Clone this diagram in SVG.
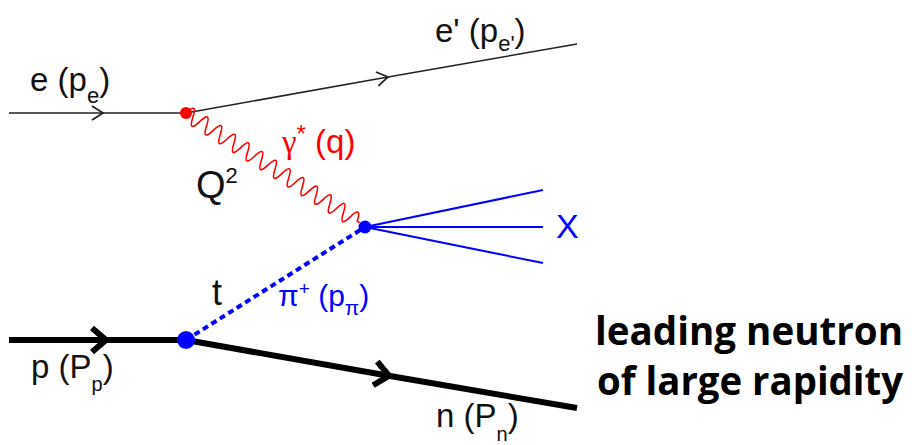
<svg xmlns="http://www.w3.org/2000/svg" width="912" height="445" viewBox="0 0 912 445">
  <style>
    .lbl { font-family: "Liberation Sans", Arial, sans-serif; font-size: 33px; fill: #111; }
    .red { fill: #ff0000; }
    .blue { fill: #0000ff; }
    .big { font-family: "Open Sans", "Liberation Sans", sans-serif; font-weight: bold; font-size: 39px; fill: #000; }
    .elec { stroke: #222; stroke-width: 1.6; fill: none; }
    .prot { stroke: #000; stroke-width: 6; fill: none; }
  </style>
  <defs>
    <marker id="chevThin" markerUnits="userSpaceOnUse" orient="auto" markerWidth="30" markerHeight="30" refX="15" refY="15" viewBox="0 0 30 30" overflow="visible">
      <path d="M4,8 L15,15 L4,22" fill="none" stroke="#222" stroke-width="1.8"/>
    </marker>
    <marker id="chevThick" markerUnits="userSpaceOnUse" orient="auto" markerWidth="40" markerHeight="40" refX="20" refY="20" viewBox="0 0 40 40" overflow="visible">
      <path d="M5,8 L19,20 L5,32" fill="none" stroke="#000" stroke-width="6"/>
    </marker>
  </defs>
  <rect width="912" height="445" fill="#fff"/>

  <g id="connectors">
    <path id="e-in" class="elec" d="M9,113 L103,113 L186,113" marker-mid="url(#chevThin)"/>
    <path id="e-out" class="elec" d="M186,113 L388,77 L577,44" marker-mid="url(#chevThin)"/>
    <path id="photon" fill="none" stroke="#ff0000" stroke-width="1.6" transform="translate(186,113) rotate(32.3)"
      d="M0,0 q4.05,-16 8.1,0 t8.1,0 t8.1,0 t8.1,0 t8.1,0 t8.1,0 t8.1,0 t8.1,0 t8.1,0 t8.1,0 t8.1,0 t8.1,0 t8.1,0 t8.1,0 t8.1,0 t8.1,0 t8.1,0 t8.1,0 t8.1,0 t8.1,0 t8.1,0 t8.1,0 t8.1,0 t8.1,0 t8.1,0 l3,0"/>
    <path id="pion" d="M186,340 L365,227" stroke="#0000ff" stroke-width="4" stroke-dasharray="6,4" fill="none"/>
    <path id="x1" d="M365,227 L543,190" stroke="#0000ff" stroke-width="2" fill="none"/>
    <path id="x2" d="M365,227 L543,227" stroke="#0000ff" stroke-width="2" fill="none"/>
    <path id="x3" d="M365,227 L543,263" stroke="#0000ff" stroke-width="2" fill="none"/>
    <path id="p-in" class="prot" d="M9,340 L107,340 L186,340" marker-mid="url(#chevThick)"/>
    <path id="n-out" class="prot" d="M186,340 L390,376 L577,408" marker-mid="url(#chevThick)"/>
  </g>

  <g id="vertex-e">
    <circle cx="186" cy="113" r="6" fill="#ff0000"/>
  </g>
  <g id="vertex-x">
    <circle cx="365" cy="227" r="6.5" fill="#0000ff"/>
  </g>
  <g id="vertex-p">
    <circle cx="186" cy="340" r="9" fill="#0000ff"/>
  </g>

  <g id="label-e">
    <text class="lbl" x="30" y="91">e (p<tspan font-size="22" dy="12">e</tspan><tspan dy="-12">)</tspan></text>
  </g>
  <g id="label-eprime">
    <text class="lbl" x="435" y="42">e' (p<tspan font-size="22" dy="9">e'</tspan><tspan dy="-9">)</tspan></text>
  </g>
  <g id="label-gamma">
    <text class="lbl red" x="282" y="153" style="font-size:33px"><tspan style="font-family:'Liberation Serif',serif">γ</tspan><tspan style="font-size:24px" dy="-11">*</tspan><tspan dy="11"> (q)</tspan></text>
  </g>
  <g id="label-Q2">
    <text class="lbl" x="196" y="198" style="font-size:38px">Q<tspan style="font-size:22px" dy="-15">2</tspan></text>
  </g>
  <g id="label-t">
    <text class="lbl" x="212" y="305" style="font-size:36px">t</text>
  </g>
  <g id="label-pi">
    <text class="lbl blue" x="278" y="306" style="font-size:30px">π<tspan style="font-size:19px" dy="-11">+</tspan><tspan dy="11"> (p</tspan><tspan style="font-size:21px" dy="9">π</tspan><tspan dy="-9">)</tspan></text>
  </g>
  <g id="label-X">
    <text class="lbl blue" x="556" y="238" style="font-size:34px">X</text>
  </g>
  <g id="label-p">
    <text class="lbl" x="31" y="378">p (P<tspan style="font-size:20px" dy="13">p</tspan><tspan dy="-13">)</tspan></text>
  </g>
  <g id="label-n">
    <text class="lbl" x="436" y="427">n (P<tspan style="font-size:20px" dy="14">n</tspan><tspan dy="-14">)</tspan></text>
  </g>
  <g id="label-leading">
    <text class="big" x="595" y="345" textLength="308" lengthAdjust="spacingAndGlyphs">leading neutron</text>
    <text class="big" x="597" y="395" textLength="306" lengthAdjust="spacingAndGlyphs">of large rapidity</text>
  </g>
</svg>
